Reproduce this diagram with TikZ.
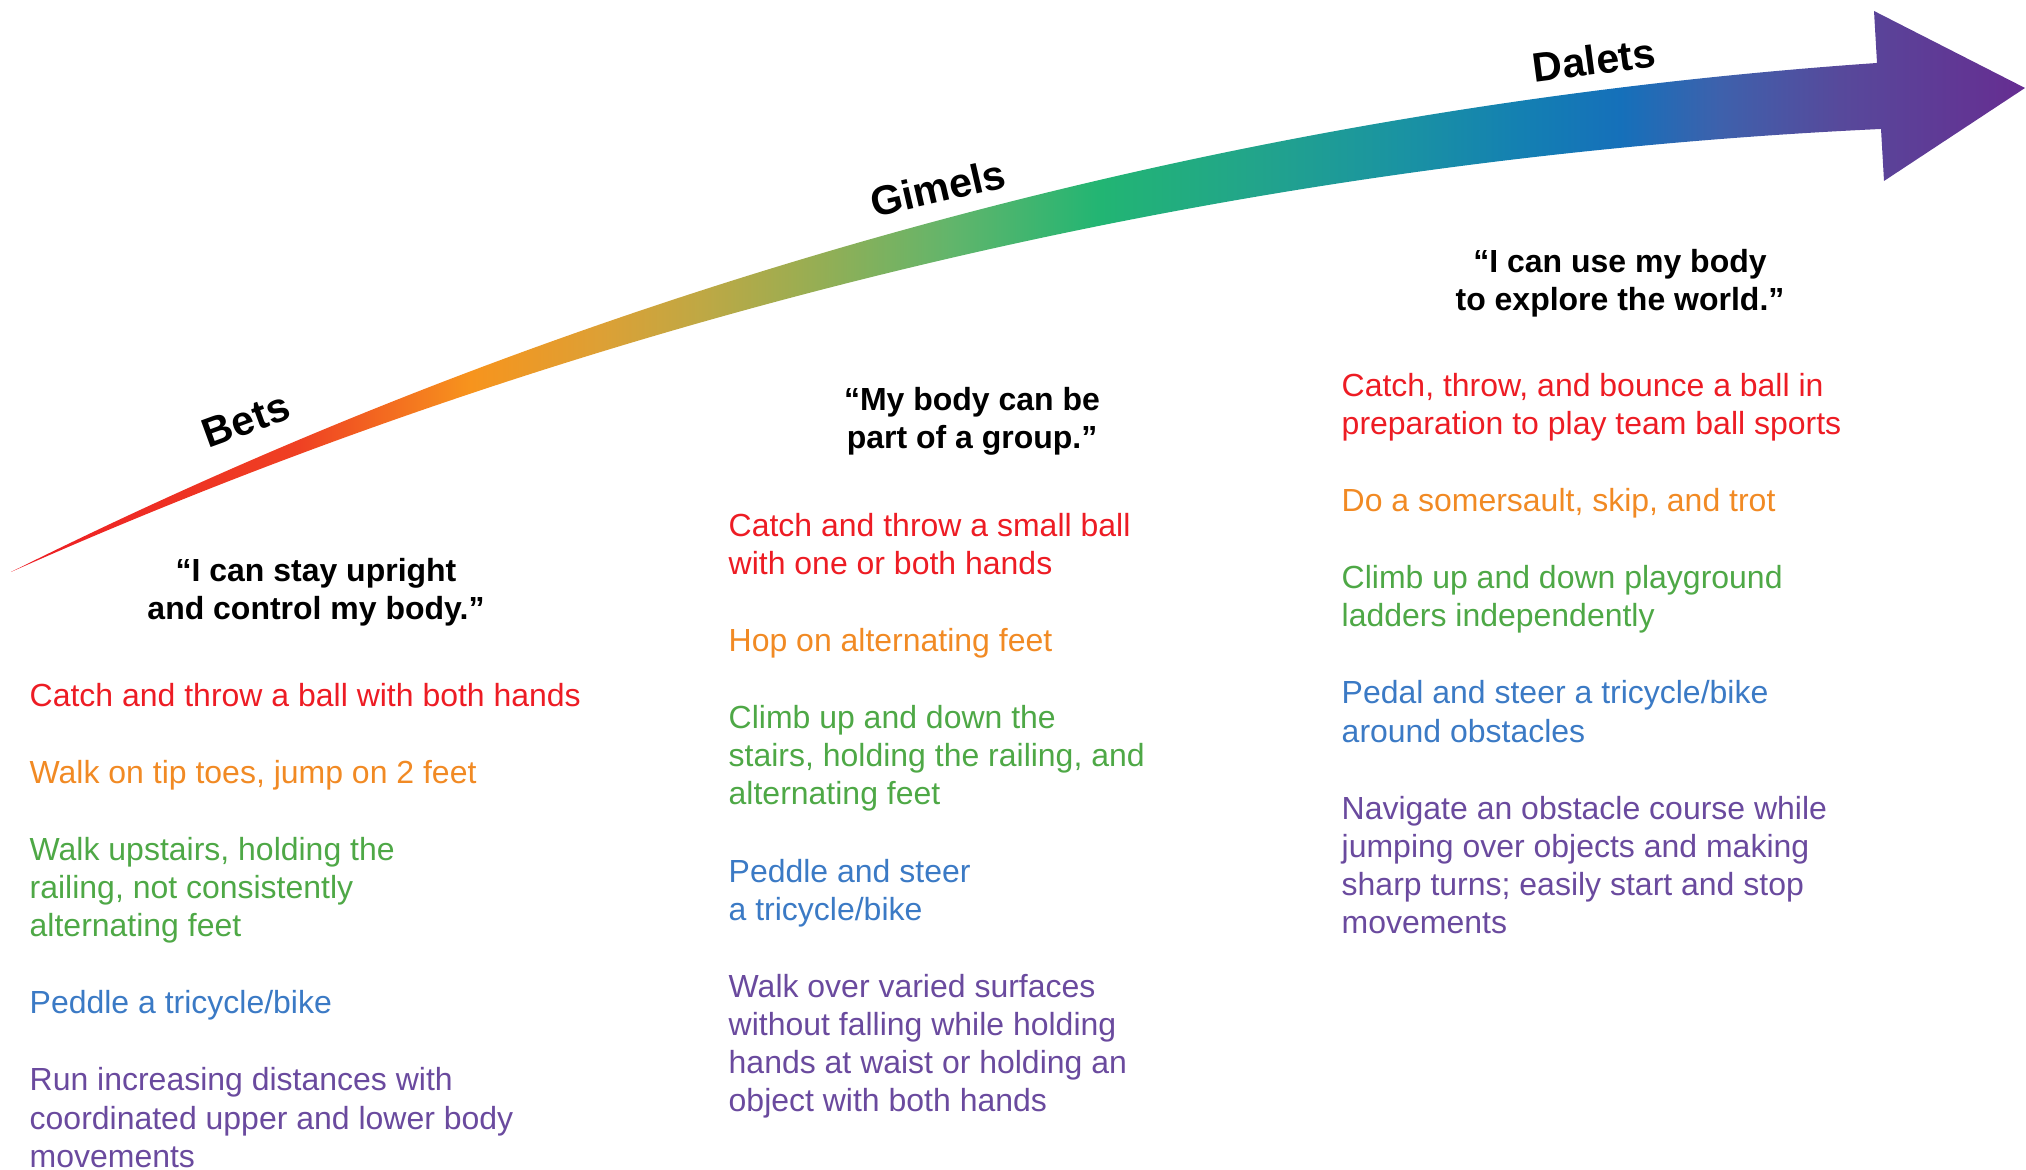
\documentclass[tikz,border=0pt]{standalone}
\usepackage{fontspec}
\setmainfont{Liberation Sans}
\usetikzlibrary{positioning}

\definecolor{itemred}{HTML}{ED1C24}
\definecolor{itemorange}{HTML}{F18A24}
\definecolor{itemgreen}{HTML}{4EA846}
\definecolor{itemblue}{HTML}{3B7AC5}
\definecolor{itempurple}{HTML}{6A4A9E}

\definecolor{sa}{HTML}{ED1C24}
\definecolor{sb}{HTML}{EF4123}
\definecolor{sc}{HTML}{F7941D}
\definecolor{sd}{HTML}{DDA035}
\definecolor{se}{HTML}{BFA844}
\definecolor{sf}{HTML}{9CAD51}
\definecolor{sg}{HTML}{62B56B}
\definecolor{sh}{HTML}{22B573}
\definecolor{si}{HTML}{22A58A}
\definecolor{sj}{HTML}{1A93A2}
\definecolor{sk}{HTML}{1480B2}
\definecolor{sl}{HTML}{1570BA}
\definecolor{sm}{HTML}{3E61AC}
\definecolor{sn}{HTML}{57499B}
\definecolor{so}{HTML}{662D91}

\pgfdeclarehorizontalshading{ageshade}{100bp}{color(0bp)=(sa); color(25bp)=(sa);
  color(32.17bp)=(sb); color(36.4bp)=(sc); color(39.63bp)=(sd); color(42.11bp)=(se);
  color(44.59bp)=(sf); color(48.31bp)=(sg); color(52.04bp)=(sh); color(55.76bp)=(si);
  color(59.49bp)=(sj); color(62.46bp)=(sk); color(64.95bp)=(sl); color(67.43bp)=(sm);
  color(70.41bp)=(sn); color(75bp)=(so); color(100bp)=(so)}

\begin{document}
\begin{tikzpicture}[
        stage/.style={font=\fontsize{11.7}{14}\selectfont\bfseries, inner sep=0pt},
        saying/.style={font=\fontsize{9.1}{10.87}\selectfont\bfseries, align=center, inner sep=0pt, anchor=north},
        skill/.style={font=\fontsize{9.1}{10.87}\selectfont, align=left, inner sep=0pt}
    ]
        \useasboundingbox (0,0) rectangle (20.26,11.70);

        % growth arrow
        \shade[shading=ageshade] (0.11,5.98) .. controls (5.93,8.88) and (12.29,10.62) .. (18.77,11.07)
            -- (18.74,11.59) -- (20.25,10.82) -- (18.84,9.89) -- (18.81,10.41)
            .. controls (12.38,10.11) and (5.96,8.58) .. (0.11,5.98) -- cycle;

        \node[stage, rotate=20](bets) at (2.46,7.50){Bets};
        \node[stage, rotate=13](gimels) at (9.38,9.82){Gimels};
        \node[stage, rotate=7.5](dalets) at (15.94,11.10){Dalets};

        % Bets
        \node[saying](bsay) at (3.16,6.157){\strut“I can stay upright\\and control my body.”\strut};
        \node[skill, text=itemred, anchor=north west](b1) at (0.29,4.913){\strut Catch and throw a ball with both hands\strut};
        \node[skill, text=itemorange](b2)[below right = 0.375cm and 0cm of b1.south west]{\strut Walk on tip toes, jump on 2 feet\strut};
        \node[skill, text=itemgreen](b3)[below right = 0.375cm and 0cm of b2.south west]{\strut Walk upstairs, holding the\\railing, not consistently\\alternating feet\strut};
        \node[skill, text=itemblue](b4)[below right = 0.375cm and 0cm of b3.south west]{\strut Peddle a tricycle/bike\strut};
        \node[skill, text=itempurple](b5)[below right = 0.375cm and 0cm of b4.south west]{\strut Run increasing distances with\\coordinated upper and lower body\\movements\strut};

        % Gimels
        \node[saying](gsay) at (9.72,7.867){\strut“My body can be\\part of a group.”\strut};
        \node[skill, text=itemred, anchor=north west](g1) at (7.28,6.613){\strut Catch and throw a small ball\\with one or both hands\strut};
        \node[skill, text=itemorange](g2)[below right = 0.375cm and 0cm of g1.south west]{\strut Hop on alternating feet\strut};
        \node[skill, text=itemgreen](g3)[below right = 0.375cm and 0cm of g2.south west]{\strut Climb up and down the\\stairs, holding the railing, and\\alternating feet\strut};
        \node[skill, text=itemblue](g4)[below right = 0.375cm and 0cm of g3.south west]{\strut Peddle and steer\\a tricycle/bike\strut};
        \node[skill, text=itempurple](g5)[below right = 0.375cm and 0cm of g4.south west]{\strut Walk over varied surfaces\\without falling while holding\\hands at waist or holding an\\object with both hands\strut};

        % Dalets
        \node[saying](dsay) at (16.20,9.247){\strut“I can use my body\\to explore the world.”\strut};
        \node[skill, text=itemred, anchor=north west](d1) at (13.41,8.013){\strut Catch, throw, and bounce a ball in\\preparation to play team ball sports\strut};
        \node[skill, text=itemorange](d2)[below right = 0.375cm and 0cm of d1.south west]{\strut Do a somersault, skip, and trot\strut};
        \node[skill, text=itemgreen](d3)[below right = 0.375cm and 0cm of d2.south west]{\strut Climb up and down playground\\ladders independently\strut};
        \node[skill, text=itemblue](d4)[below right = 0.375cm and 0cm of d3.south west]{\strut Pedal and steer a tricycle/bike\\around obstacles\strut};
        \node[skill, text=itempurple](d5)[below right = 0.375cm and 0cm of d4.south west]{\strut Navigate an obstacle course while\\jumping over objects and making\\sharp turns; easily start and stop\\movements\strut};
    \end{tikzpicture}
\end{document}
